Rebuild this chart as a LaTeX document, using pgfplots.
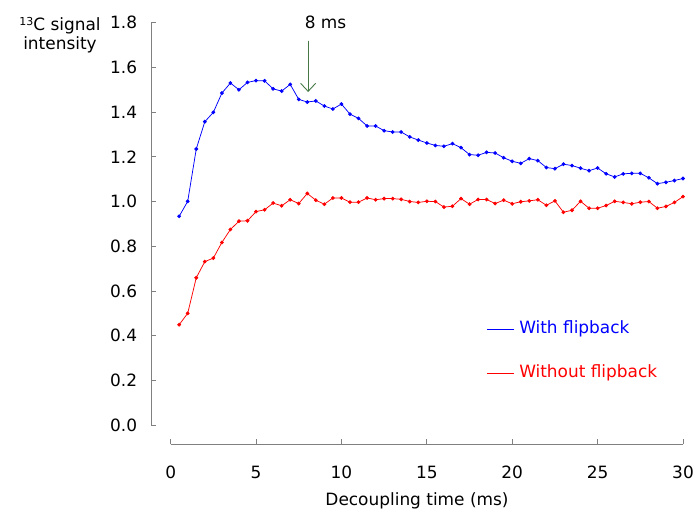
\documentclass[border=0pt]{standalone}
\usepackage{pgfplots}
\pgfplotsset{compat=1.18}
\usepackage{fontspec}
\setmainfont{DejaVu Sans}
\usetikzlibrary{arrows.meta}
\definecolor{axgray}{RGB}{128,128,128}
\definecolor{arrowgreen}{RGB}{70,120,70}
\definecolor{legblue}{RGB}{0,0,255}
\definecolor{legred}{RGB}{255,0,0}
\newcommand{\fs}{\fontsize{17}{20}\selectfont}
\begin{document}
\fs
\begin{tikzpicture}[x=1bp,y=1bp]
\path[use as bounding box] (-151,-67.7) rectangle (542,444.3);
\begin{axis}[
  at={(0,0)}, anchor=south west,
  scale only axis, width=532bp, height=421.6bp,
  xmin=-1.15, xmax=30, ymin=-0.086, ymax=1.8,
  axis x line=bottom, axis y line=left,
  axis line style={draw=none},
  tick align=inside, major tick length=5bp,
  every tick/.style={axgray, line width=0.8pt},
  xtick={0,5,...,30}, ytick={0,0.2,...,1.8},
  /pgf/number format/assume math mode=true,
  yticklabel style={/pgf/number format/fixed, /pgf/number format/fixed zerofill, /pgf/number format/precision=1, xshift=-8bp},
  xticklabel style={yshift=-16bp},
  ticklabel style={font=\fs},
  xlabel={Decoupling time (ms)},
  xlabel style={font=\fs, yshift=-2bp},
  clip=false,
]
\addplot[blue, line width=0.75pt, mark=*, mark size=1.5pt] coordinates {
(0.5,0.934)(1.0,1.001)(1.5,1.235)(2.0,1.357)(2.5,1.399)(3.0,1.485)(3.5,1.530)(4.0,1.500)
(4.5,1.533)(5.0,1.541)(5.5,1.540)(6.0,1.504)(6.5,1.494)(7.0,1.524)(7.5,1.457)(8.0,1.445)
(8.5,1.450)(9.0,1.427)(9.5,1.414)(10.0,1.436)(10.5,1.391)(11.0,1.372)(11.5,1.338)(12.0,1.338)
(12.5,1.317)(13.0,1.311)(13.5,1.311)(14.0,1.289)(14.5,1.275)(15.0,1.262)(15.5,1.251)(16.0,1.247)
(16.5,1.259)(17.0,1.241)(17.5,1.210)(18.0,1.207)(18.5,1.220)(19.0,1.217)(19.5,1.196)(20.0,1.180)
(20.5,1.171)(21.0,1.192)(21.5,1.183)(22.0,1.152)(22.5,1.147)(23.0,1.167)(23.5,1.161)(24.0,1.149)
(24.5,1.138)(25.0,1.150)(25.5,1.124)(26.0,1.110)(26.5,1.124)(27.0,1.126)(27.5,1.126)(28.0,1.106)
(28.5,1.080)(29.0,1.086)(29.5,1.094)(30.0,1.103)};
\addplot[red, line width=0.75pt, mark=*, mark size=1.5pt] coordinates {
(0.5,0.449)(1.0,0.500)(1.5,0.659)(2.0,0.731)(2.5,0.747)(3.0,0.817)(3.5,0.875)(4.0,0.912)
(4.5,0.914)(5.0,0.955)(5.5,0.963)(6.0,0.993)(6.5,0.981)(7.0,1.008)(7.5,0.991)(8.0,1.036)
(8.5,1.006)(9.0,0.988)(9.5,1.016)(10.0,1.016)(10.5,0.997)(11.0,0.997)(11.5,1.016)(12.0,1.008)
(12.5,1.013)(13.0,1.013)(13.5,1.010)(14.0,1.000)(14.5,0.996)(15.0,1.001)(15.5,1.000)(16.0,0.975)
(16.5,0.979)(17.0,1.013)(17.5,0.988)(18.0,1.009)(18.5,1.009)(19.0,0.991)(19.5,1.006)(20.0,0.990)
(20.5,0.999)(21.0,1.003)(21.5,1.008)(22.0,0.983)(22.5,1.003)(23.0,0.952)(23.5,0.961)(24.0,1.001)
(24.5,0.970)(25.0,0.970)(25.5,0.982)(26.0,1.001)(26.5,0.996)(27.0,0.990)(27.5,0.997)(28.0,1.000)
(28.5,0.970)(29.0,0.978)(29.5,0.996)(30.0,1.022)};
\draw[draw=legblue, line width=1.1pt] (axis cs:18.52,0.4295) -- (axis cs:20.10,0.4295);
\node[anchor=mid west, inner sep=0pt, text=legblue, font=\fs] at (axis cs:20.40,0.4295) {With flipback};
\draw[draw=legred, line width=1.1pt] (axis cs:18.52,0.2327) -- (axis cs:20.10,0.2327);
\node[anchor=mid west, inner sep=0pt, text=legred, font=\fs] at (axis cs:20.40,0.2327) {Without flipback};
\draw[axgray, line width=0.8pt] (axis cs:-1.15,0) -- (axis cs:-1.15,1.8);
\draw[axgray, line width=0.8pt] (axis cs:0,-0.086) -- (axis cs:30,-0.086);
\draw[arrowgreen, line width=0.9pt, -{Straight Barb[length=8bp,width=15bp]}] (axis cs:8.05,1.72) -- (axis cs:8.05,1.49);
\node[font=\fs] at (axis cs:9.07,1.80) {8 ms};
\end{axis}
\node[align=center, font=\fs, inner sep=0pt] at (-91,409) {\raisebox{0.45ex}{\fontsize{11}{13}\selectfont 13}C signal\\intensity};
\end{tikzpicture}
\end{document}
